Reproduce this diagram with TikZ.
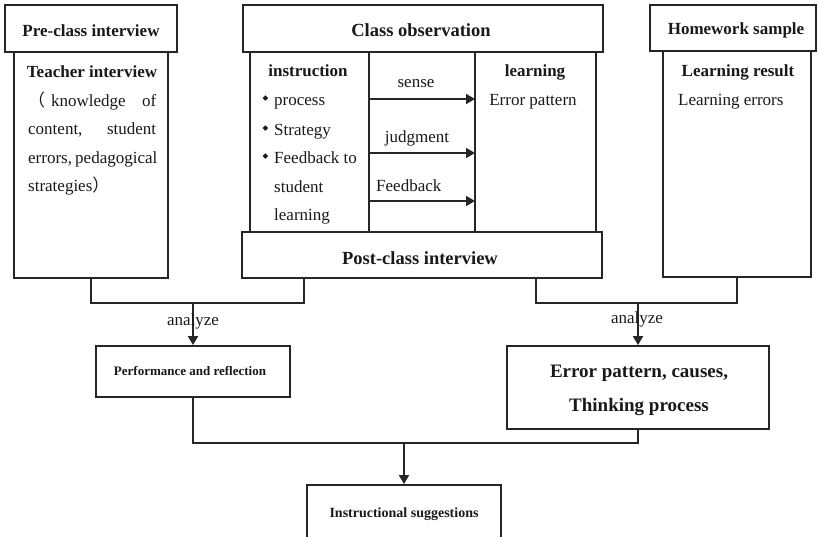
\documentclass[tikz,border=0pt]{standalone}
\usepackage{fontspec}
\setmainfont{Liberation Serif}
\newfontfamily\cjkfont{Noto Sans CJK SC}
\newfontfamily\symfont{DejaVu Sans}
\usetikzlibrary{arrows.meta}

\begin{document}
\begin{tikzpicture}[x=1pt,y=-1pt,
  frame/.style={draw=black!85, line width=1.8pt, inner sep=0pt, fill=white},
  txt/.style={inner sep=0pt, text=black!90, font=\fontsize{17}{20}\selectfont},
  hd/.style={txt, font=\fontsize{17}{20}\selectfont\bfseries},
  big/.style={txt, font=\fontsize{18.5}{20}\selectfont\bfseries},
  small/.style={txt, font=\fontsize{13}{16}\selectfont\bfseries},
  bul/.style={inner sep=0pt, text=black!90, font=\fontsize{7.5}{8}\symfont},
  wire/.style={draw=black!85, line width=1.8pt},
  arr/.style={wire, -{Triangle[length=9pt,width=10pt]}},
]
\useasboundingbox (0,0) rectangle (818,537);

% ---------- Pre-class interview ----------
\node[frame, minimum width=154, minimum height=226] (prebody) at (91,165) {};
\node[frame, minimum width=172, minimum height=47] (prehead) at (91,28.5) {};
\node[hd, anchor=base] (tprehead) at (91,37) {Pre-class interview};
\node[hd, anchor=base] (tteacher) at (92,78) {Teacher interview};
\node[txt, anchor=base west] (tp1) at (28,106.5) {\makebox[128pt][l]{{\cjkfont （}\hspace{6pt}knowledge\hfill of}};
\node[txt, anchor=base west] (tp2) at (28,135) {\makebox[128pt][l]{content,\hfill student}};
\node[txt, anchor=base west] (tp3) at (28,163.5) {\makebox[128pt][s]{errors, pedagogical}};
\node[txt, anchor=base west] (tp4) at (28,192) {strategies{\cjkfont ）}};

% ---------- Class observation ----------
\node[frame, minimum width=119, minimum height=180] (colL) at (309.5,142) {};
\node[frame, minimum width=106, minimum height=180] (colM) at (422,142) {};
\node[frame, minimum width=121, minimum height=180] (colR) at (535.5,142) {};
\node[frame, minimum width=360, minimum height=47] (obshead) at (423,28.5) {};
\node[big, anchor=base] (tobs) at (421,37) {Class observation};
\node[frame, minimum width=360, minimum height=46] (post) at (422,255) {};
\node[big, anchor=base] (tpost) at (420,264) {Post-class interview};

\node[hd, anchor=base] (tinstr) at (308,77) {instruction};
\node[bul] (b1) at (265.5,99) {◆};
\node[bul] (b2) at (265.5,129) {◆};
\node[bul] (b3) at (265.5,157) {◆};
\node[txt, anchor=base west] (ti1) at (274,106) {process};
\node[txt, anchor=base west] (ti2) at (274,136) {Strategy};
\node[txt, anchor=base west] (ti3) at (274,164) {Feedback to};
\node[txt, anchor=base west] (ti4) at (274,193) {student};
\node[txt, anchor=base west] (ti5) at (274,221) {learning};

\coordinate (s1) at (369,99);  \coordinate (e1) at (475,99);
\coordinate (s2) at (369,153); \coordinate (e2) at (475,153);
\coordinate (s3) at (369,201); \coordinate (e3) at (475,201);
\draw[arr] (s1) -- (e1);
\draw[arr] (s2) -- (e2);
\draw[arr] (s3) -- (e3);
\node[txt, anchor=base] (tsense) at (416,88) {sense};
\node[txt, anchor=base] (tjudge) at (417,143) {judgment};
\node[txt, anchor=base west] (tfeed) at (376,192) {Feedback};

\node[hd, anchor=base] (tlearn) at (535,77) {learning};
\node[txt, anchor=base] (terrpat) at (533,106) {Error pattern};

% ---------- Homework sample ----------
\node[frame, minimum width=148, minimum height=226] (hwbody) at (737,164) {};
\node[frame, minimum width=166, minimum height=46] (hwhead) at (733,28) {};
\node[hd, anchor=base] (thw) at (736,35) {Homework sample};
\node[hd, anchor=base] (tlres) at (738,77) {Learning result};
\node[txt, anchor=base west] (tlerr) at (678,106) {Learning errors};

% ---------- Results ----------
\node[frame, minimum width=194, minimum height=51] (perf) at (193,371.5) {};
\node[small, anchor=base] (tperf) at (190,375) {Performance and reflection};
\node[frame, minimum width=262, minimum height=83] (err) at (638,387.5) {};
\node[txt, anchor=base, font=\fontsize{19}{20}\selectfont\bfseries] (terr1) at (639,377) {Error pattern, causes,};
\node[txt, anchor=base, font=\fontsize{19}{20}\selectfont\bfseries] (terr2) at (639,411) {Thinking process};
\node[frame, minimum width=194, minimum height=75] (instr) at (404,522.5) {};
\node[txt, anchor=base, font=\fontsize{14}{16}\selectfont\bfseries] (tinsug) at (404,517) {Instructional suggestions};

% ---------- Connectors ----------
\coordinate (postL) at (304,278);
\coordinate (postR) at (536,278);
\coordinate (jL) at (193,303);
\coordinate (jR) at (638,303);
\coordinate (jB) at (404,443);

\draw[wire] (prebody.south) |- (jL) -| (postL);
\draw[arr] (jL) -- (perf.north);
\draw[wire] (postR) |- (jR) -| (hwbody.south);
\draw[arr] (jR) -- (err.north);
\draw[wire] (perf.south) |- (jB) -| (err.south);
\draw[arr] (jB) -- (instr.north);

\node[txt, anchor=base] (tan1) at (193,325) {analyze};
\node[txt, anchor=base] (tan2) at (637,323) {analyze};
\end{tikzpicture}
\end{document}
